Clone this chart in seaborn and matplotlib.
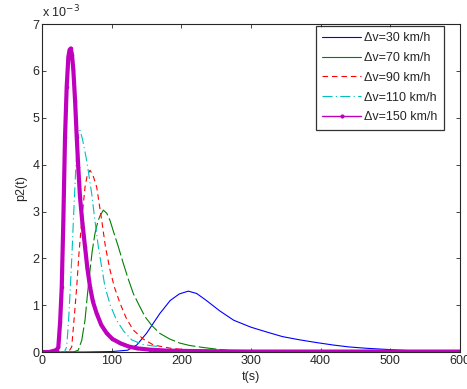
import numpy as np
import pandas as pd
import seaborn as sns
import matplotlib.pyplot as plt

# values, p2 in units of 1e-3
t_30 = [0, 60, 100, 123, 136, 150, 169, 184, 197, 210, 222, 236, 255, 275, 300, 322, 345, 370, 395, 418, 440, 466, 490, 514, 540]
p_30 = [0, 0, 0.01, 0.04, 0.15, 0.40, 0.82, 1.10, 1.24, 1.30, 1.25, 1.10, 0.88, 0.68, 0.53, 0.43, 0.33, 0.26, 0.20, 0.15, 0.11, 0.08, 0.06, 0.04, 0.02]

t_70 = [0, 45, 52, 57, 61.7, 65, 68.9, 72, 76, 80, 83, 88, 93, 97.6, 103, 109.5, 116.7, 124, 131, 140, 148, 158, 169, 183, 198, 212, 230, 246, 270, 300]
p_70 = [0, 0, 0.04, 0.25, 0.68, 1.20, 1.75, 2.15, 2.53, 2.78, 2.90, 3.03, 2.96, 2.81, 2.55, 2.25, 1.89, 1.55, 1.25, 0.98, 0.75, 0.56, 0.40, 0.28, 0.19, 0.14, 0.10, 0.07, 0.03, 0.01]

t_90 = [0, 38, 42.6, 46, 49.8, 53, 57, 61.7, 65, 68.9, 73, 78.5, 85.7, 91, 97.6, 104, 112, 121, 131, 145, 160, 185, 212]
p_90 = [0, 0, 0.11, 0.70, 1.39, 2.10, 2.81, 3.52, 3.78, 3.88, 3.78, 3.52, 2.81, 2.25, 1.75, 1.38, 1.04, 0.72, 0.47, 0.28, 0.15, 0.08, 0.04]

t_110 = [0, 32, 35.4, 38, 40.2, 43, 45, 48.3, 50.7, 53, 54.5, 58, 64.1, 71.3, 76, 80.8, 86, 90.4, 98, 107, 117, 128.7, 145, 165]
p_110 = [0, 0, 0.11, 0.65, 1.25, 2.10, 2.81, 3.88, 4.45, 4.68, 4.73, 4.55, 4.09, 3.38, 2.80, 2.25, 1.78, 1.39, 1.00, 0.68, 0.45, 0.26, 0.16, 0.12]

t_150 = [0, 10, 18, 21, 23.4, 26, 28.3, 30.6, 33, 35.4, 37.8, 39.5, 41.2, 43, 45, 47.5, 49.8, 52, 54.5, 58, 61.7, 65, 68.9, 73, 78.5, 85, 92.9, 101, 112, 124, 136, 155, 180, 220, 300, 400, 500, 600]
p_150 = [0, 0, 0.03, 0.05, 0.10, 0.65, 1.39, 2.81, 4.59, 5.66, 6.30, 6.45, 6.48, 6.35, 6.01, 5.35, 4.59, 3.95, 3.31, 2.75, 2.25, 1.80, 1.39, 1.08, 0.82, 0.58, 0.40, 0.28, 0.19, 0.12, 0.08, 0.05, 0.03, 0.02, 0.01, 0.01, 0.01, 0.01]

labels = ["\u0394v=30 km/h", "\u0394v=70 km/h", "\u0394v=90 km/h", "\u0394v=110 km/h", "\u0394v=150 km/h"]

sns.set_style("ticks")
plt.rcParams['font.family'] = ['Liberation Sans', 'DejaVu Sans']

fig = plt.figure(figsize=(4.67, 3.89), dpi=100)
ax = fig.add_axes([0.09, 0.095, 0.895, 0.843])

sns.lineplot(x=t_30, y=p_30, color="#0000ff", lw=0.8, ax=ax, label=labels[0])
sns.lineplot(x=t_70, y=p_70, color="#008000", lw=0.8, ax=ax, label=labels[1])
sns.lineplot(x=t_90, y=p_90, color="#ff0000", lw=0.8, ax=ax, label=labels[2])
sns.lineplot(x=t_110, y=p_110, color="#00bfbf", lw=0.8, ax=ax, label=labels[3])
sns.lineplot(x=t_150, y=p_150, color="#bf00bf", lw=3, ax=ax, label=labels[4],
             marker=".", markersize=5, markeredgewidth=0)

lines = ax.get_lines()
lines[1].set_dashes([16, 3])
lines[2].set_dashes([5, 3.5])
lines[3].set_dashes([9, 3, 1, 3])

ax.set_xlim(0, 600)
ax.set_ylim(0, 7)
ax.set_xticks(range(0, 601, 100))
ax.set_yticks(range(0, 8))
ax.tick_params(direction="in", top=True, right=True, labelsize=9, length=3, width=0.6, pad=2)
for s in ax.spines.values():
    s.set_linewidth(0.8)
ax.set_xlabel("t(s)", fontsize=9, labelpad=3)
ax.set_ylabel("p2(t)", fontsize=9, labelpad=4)
ax.text(0.0, 1.012, "x 10$^{-3}$", transform=ax.transAxes, fontsize=9, ha="left", va="bottom")

leg = ax.legend(loc="upper right", fontsize=9, frameon=True, fancybox=False,
                edgecolor="black", handlelength=3.1, handletextpad=0.25, borderpad=0.5,
                labelspacing=0.62, borderaxespad=0.0, bbox_to_anchor=(0.961, 0.994))
leg.get_frame().set_linewidth(0.9)
hl = leg.get_lines()
hl[1].set_linestyle("-")
hl[4].set_linewidth(1)
hl[4].set_markersize(6)
hl[4].set_markevery([1])

fig.savefig("out.png", dpi=100)
